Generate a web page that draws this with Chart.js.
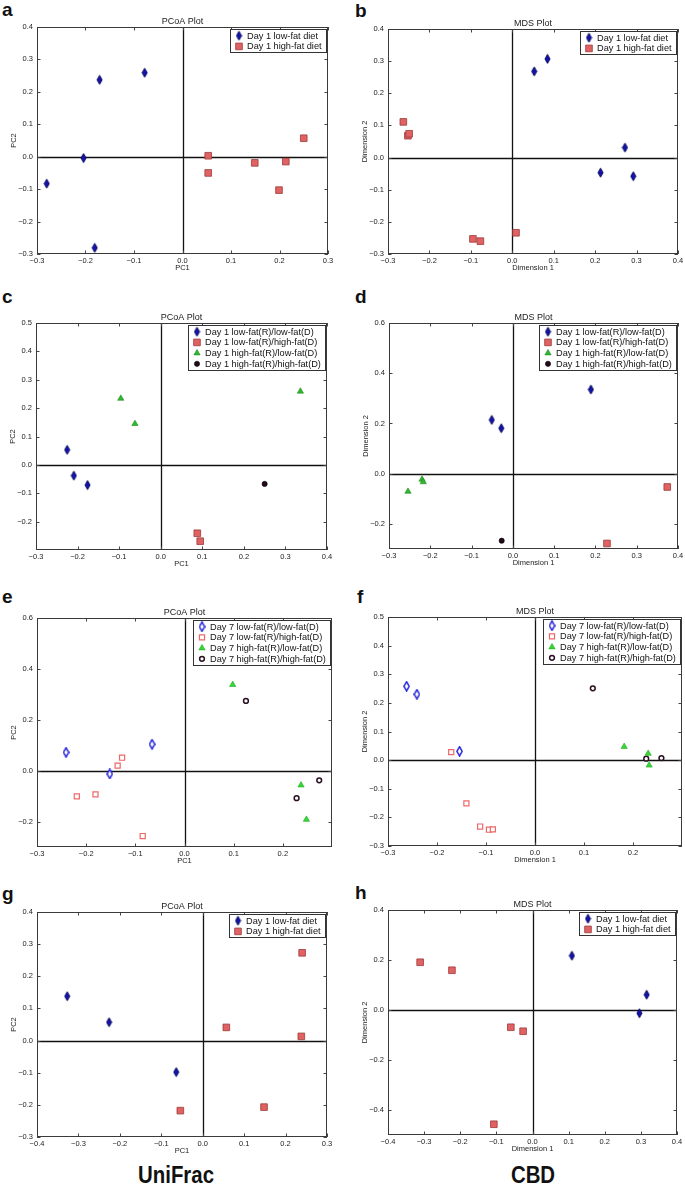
<!DOCTYPE html>
<html>
<head>
<meta charset="utf-8">
<title>PCoA / MDS plots</title>
<script src="https://cdn.jsdelivr.net/npm/chart.js@4.4.0/dist/chart.umd.min.js"></script>
<style>
  body { margin: 0; background: #fff; width: 685px; height: 1186px; position: relative; overflow: hidden;
         font-family: "Liberation Sans", Arial, sans-serif; }
  .panel { position: absolute; }
  .letter { position: absolute; font-weight: bold; font-size: 19px; line-height: 19px; color: #111; }
  .method { position: absolute; font-weight: bold; font-size: 24px; line-height: 24px; color: #111;
            transform: translateX(-50%) scaleX(0.85); white-space: nowrap; }
</style>
</head>
<body>
<div class="letter" style="left:2px;top:0px">a</div>
<div class="letter" style="left:355px;top:1px">b</div>
<div class="letter" style="left:2px;top:287px">c</div>
<div class="letter" style="left:355px;top:287px">d</div>
<div class="letter" style="left:2px;top:587px">e</div>
<div class="letter" style="left:357px;top:587px">f</div>
<div class="letter" style="left:2px;top:884px">g</div>
<div class="letter" style="left:355px;top:883px">h</div>
<div class="method" style="left:176px;top:1163px">UniFrac</div>
<div class="method" style="left:533px;top:1163px">CBD</div>
<script>
// legend texts
const dietLabels = ['Day 1 low-fat diet', 'Day 1 high-fat diet'];
const day1Groups = ['Day 1 low-fat(R)/low-fat(D)', 'Day 1 low-fat(R)/high-fat(D)',
                    'Day 1 high-fat(R)/low-fat(D)', 'Day 1 high-fat(R)/high-fat(D)'];
const day7Groups = ['Day 7 low-fat(R)/low-fat(D)', 'Day 7 low-fat(R)/high-fat(D)',
                    'Day 7 high-fat(R)/low-fat(D)', 'Day 7 high-fat(R)/high-fat(D)'];

// tick values
const ticksM3to3 = [-0.3, -0.2, -0.1, 0, 0.1, 0.2, 0.3];
const ticksM3to4 = [-0.3, -0.2, -0.1, 0, 0.1, 0.2, 0.3, 0.4];
const ticksM3to2 = [-0.3, -0.2, -0.1, 0, 0.1, 0.2];
const ticksM4to3 = [-0.4, -0.3, -0.2, -0.1, 0, 0.1, 0.2, 0.3];
const ticksM4to4 = [-0.4, -0.3, -0.2, -0.1, 0, 0.1, 0.2, 0.3, 0.4];
const ticksM2to5 = [-0.2, -0.1, 0, 0.1, 0.2, 0.3, 0.4, 0.5];
const ticksM3to5 = [-0.3, -0.2, -0.1, 0, 0.1, 0.2, 0.3, 0.4, 0.5];
const ticksM2to6by2 = [-0.2, 0, 0.2, 0.4, 0.6];
const ticksM4to4by2 = [-0.4, -0.2, 0, 0.2, 0.4];

// a - UniFrac PCoA, day 1
const aLowFat = [[-0.280, -0.083], [-0.204, -0.004], [-0.171, 0.237], [-0.078, 0.259], [-0.181, -0.281]];
const aHighFat = [[0.053, 0.003], [0.053, -0.050], [0.149, -0.019], [0.213, -0.015], [0.199, -0.103], [0.250, 0.057]];
// b - CBD MDS, day 1
const bLowFat = [[0.053, 0.268], [0.085, 0.307], [0.213, -0.047], [0.272, 0.031], [0.292, -0.058]];
const bHighFat = [[-0.263, 0.111], [-0.252, 0.068], [-0.249, 0.074], [-0.095, -0.253], [-0.077, -0.260], [0.009, -0.234]];
// c - UniFrac PCoA, day 1 recipients/donors
const cLowLow = [[-0.225, 0.053], [-0.209, -0.038], [-0.176, -0.071]];
const cLowHigh = [[0.088, -0.241], [0.095, -0.269]];
const cHighLow = [[-0.096, 0.234], [-0.062, 0.145], [0.336, 0.259]];
const cHighHigh = [[0.250, -0.067]];
// d - CBD MDS, day 1 recipients/donors
const dLowLow = [[-0.051, 0.214], [-0.028, 0.181], [0.189, 0.335]];
const dLowHigh = [[0.374, -0.053], [0.228, -0.278]];
const dHighLow = [[-0.254, -0.071], [-0.220, -0.023], [-0.217, -0.033]];
const dHighHigh = [[-0.027, -0.267]];
// e - UniFrac PCoA, day 7
const eLowLow = [[-0.241, 0.072], [-0.152, -0.013], [-0.066, 0.104]];
const eLowHigh = [[-0.219, -0.101], [-0.181, -0.093], [-0.136, 0.020], [-0.127, 0.051], [-0.085, -0.257]];
const eHighLow = [[0.098, 0.338], [0.237, -0.057], [0.248, -0.192]];
const eHighHigh = [[0.125, 0.274], [0.228, -0.108], [0.274, -0.038]];
// f - CBD MDS, day 7
const fLowLow = [[-0.262, 0.258], [-0.241, 0.230], [-0.154, 0.031]];
const fLowHigh = [[-0.171, 0.028], [-0.140, -0.151], [-0.112, -0.232], [-0.094, -0.243], [-0.086, -0.242]];
const fHighLow = [[0.182, 0.047], [0.231, 0.023], [0.233, -0.018]];
const fHighHigh = [[0.118, 0.251], [0.227, 0.005], [0.258, 0.007]];
// g - UniFrac PCoA, day 1 (second cohort)
const gLowFat = [[-0.327, 0.138], [-0.226, 0.057], [-0.064, -0.098]];
const gHighFat = [[-0.054, -0.218], [0.057, 0.041], [0.148, -0.207], [0.240, 0.273], [0.238, 0.013]];
// h - CBD MDS, day 1 (second cohort)
const hLowFat = [[0.109, 0.217], [0.316, 0.061], [0.296, -0.013]];
const hHighFat = [[-0.311, 0.191], [-0.223, 0.159], [-0.060, -0.069], [-0.026, -0.085], [-0.107, -0.457]];

const FONT = '"Liberation Sans", Arial, sans-serif';
const YW = 28, XH = 18, PT = 16, PR = 10;   // space around each plot box

// matplotlib-ish thin diamond marker
function thinDiamond(fill, stroke, lw) {
    const c = document.createElement('canvas');
    c.width = 7; c.height = 11;
    const g = c.getContext('2d');
    g.beginPath();
    g.moveTo(3.5, 0.9); g.lineTo(6.1, 5.5); g.lineTo(3.5, 10.1); g.lineTo(0.9, 5.5);
    g.closePath();
    g.fillStyle = fill; g.fill();
    g.lineWidth = lw; g.strokeStyle = stroke; g.stroke();
    return c;
}

const marks = {
    lowFat:   { pointStyle: thinDiamond('#1212ae', '#00004a', 0.8), pointRadius: 5, backgroundColor: '#1212ae', borderColor: '#00004a', borderWidth: 0.8 },
    highFat:  { pointStyle: 'rect', pointRadius: 4.7, backgroundColor: '#e06262', borderColor: '#9c3a3a', borderWidth: 0.8 },
    greenTri: { pointStyle: 'triangle', pointRadius: 3.6, backgroundColor: '#2fb82f', borderColor: '#1e8a1e', borderWidth: 0.6 },
    darkDot:  { pointStyle: 'circle', pointRadius: 2.6, backgroundColor: '#240a1a', borderColor: '#000000', borderWidth: 0.6 },
    lowOpen:  { pointStyle: thinDiamond('#ffffff', '#2020dc', 1.5), pointRadius: 5, backgroundColor: '#ffffff', borderColor: '#2020dc', borderWidth: 1.5 },
    highOpen: { pointStyle: 'rect', pointRadius: 3.6, backgroundColor: '#ffffff', borderColor: '#ee6868', borderWidth: 1.2 },
    brightTri:{ pointStyle: 'triangle', pointRadius: 3.6, backgroundColor: '#36d836', borderColor: '#22a822', borderWidth: 0.6 },
    darkRing: { pointStyle: 'circle', pointRadius: 2.4, backgroundColor: '#ffffff', borderColor: '#2a1022', borderWidth: 1.5 }
};

const panels = [
    { title: 'PCoA Plot', xTitle: 'PC1', yTitle: 'PC2', box: [37, 27, 291, 227],
      x: [-0.3, 0.3, ticksM3to3], y: [-0.3, 0.4, ticksM3to4],
      series: [aLowFat, aHighFat], labels: dietLabels, marks: [marks.lowFat, marks.highFat] },
    { title: 'MDS Plot', xTitle: 'Dimension 1', yTitle: 'Dimension 2', box: [388, 29, 290, 225],
      x: [-0.3, 0.4, ticksM3to4], y: [-0.3, 0.4, ticksM3to4],
      series: [bLowFat, bHighFat], labels: dietLabels, marks: [marks.lowFat, marks.highFat] },
    { title: 'PCoA Plot', xTitle: 'PC1', yTitle: 'PC2', box: [36, 323, 291, 227],
      x: [-0.3, 0.4, ticksM3to4], y: [-0.3, 0.5, ticksM2to5],
      series: [cLowLow, cLowHigh, cHighLow, cHighHigh], labels: day1Groups,
      marks: [marks.lowFat, marks.highFat, marks.greenTri, marks.darkDot] },
    { title: 'MDS Plot', xTitle: 'Dimension 1', yTitle: 'Dimension 2', box: [389, 323, 289, 226],
      x: [-0.3, 0.4, ticksM3to4], y: [-0.3, 0.6, ticksM2to6by2],
      series: [dLowLow, dLowHigh, dHighLow, dHighHigh], labels: day1Groups,
      marks: [marks.lowFat, marks.highFat, marks.greenTri, marks.darkDot] },
    { title: 'PCoA Plot', xTitle: 'PC1', yTitle: 'PC2', box: [37, 618, 295, 229],
      x: [-0.3, 0.3, ticksM3to2], y: [-0.3, 0.6, ticksM2to6by2],
      series: [eLowLow, eLowHigh, eHighLow, eHighHigh], labels: day7Groups,
      marks: [marks.lowOpen, marks.highOpen, marks.brightTri, marks.darkRing] },
    { title: 'MDS Plot', xTitle: 'Dimension 1', yTitle: 'Dimension 2', box: [388, 617, 294, 229],
      x: [-0.3, 0.3, ticksM3to2], y: [-0.3, 0.5, ticksM3to5],
      series: [fLowLow, fLowHigh, fHighLow, fHighHigh], labels: day7Groups,
      marks: [marks.lowOpen, marks.highOpen, marks.brightTri, marks.darkRing] },
    { title: 'PCoA Plot', xTitle: 'PC1', yTitle: 'PC2', box: [37, 912, 290, 225],
      x: [-0.4, 0.3, ticksM4to3], y: [-0.3, 0.4, ticksM3to4],
      series: [gLowFat, gHighFat], labels: dietLabels, marks: [marks.lowFat, marks.highFat] },
    { title: 'MDS Plot', xTitle: 'Dimension 1', yTitle: 'Dimension 2', box: [388, 910, 289, 225],
      x: [-0.4, 0.4, ticksM4to4], y: [-0.5, 0.4, ticksM4to4by2],
      series: [hLowFat, hHighFat], labels: dietLabels, marks: [marks.lowFat, marks.highFat] }
];

function fmt(v) {
    const s = Math.abs(v).toFixed(1);
    return v < -1e-9 ? '\u2212' + s : s;
}

// zero lines, boxed frame with inward ticks, title and boxed legend
const mplPlugin = {
    id: 'mpl',
    beforeDatasetsDraw(chart) {
        const { ctx, chartArea: a, scales } = chart;
        const x0 = Math.round(scales.x.getPixelForValue(0)) + 0.5;
        const y0 = Math.round(scales.y.getPixelForValue(0)) + 0.5;
        ctx.save();
        ctx.strokeStyle = '#111';
        ctx.lineWidth = 1.3;
        ctx.beginPath();
        ctx.moveTo(x0, a.top); ctx.lineTo(x0, a.bottom);
        ctx.moveTo(a.left, y0); ctx.lineTo(a.right, y0);
        ctx.stroke();
        ctx.restore();
    },
    afterDatasetsDraw(chart) {
        const { ctx, chartArea: a, scales } = chart;
        ctx.save();
        ctx.strokeStyle = '#444';
        ctx.lineWidth = 1;
        ctx.beginPath();
        scales.x.ticks.forEach(t => {
            const px = Math.round(scales.x.getPixelForValue(t.value)) + 0.5;
            ctx.moveTo(px, a.bottom); ctx.lineTo(px, a.bottom - 3.5);
            ctx.moveTo(px, a.top); ctx.lineTo(px, a.top + 3.5);
        });
        scales.y.ticks.forEach(t => {
            const py = Math.round(scales.y.getPixelForValue(t.value)) + 0.5;
            ctx.moveTo(a.left, py); ctx.lineTo(a.left + 3.5, py);
            ctx.moveTo(a.right, py); ctx.lineTo(a.right - 3.5, py);
        });
        ctx.stroke();
        ctx.strokeStyle = '#3a3a3a';
        ctx.strokeRect(Math.round(a.left) + 0.5, Math.round(a.top) + 0.5,
                       Math.round(a.right - a.left) - 1, Math.round(a.bottom - a.top) - 1);
        ctx.restore();
    },
    afterDraw(chart, args, opts) {
        const { ctx, chartArea: a } = chart;
        ctx.save();
        ctx.fillStyle = '#222';
        ctx.font = '9px ' + FONT;
        ctx.textAlign = 'center';
        ctx.textBaseline = 'alphabetic';
        ctx.fillText(opts.title, (a.left + a.right) / 2, a.top - 3.5);

        // legend
        const sets = chart.data.datasets;
        ctx.font = '9.2px ' + FONT;
        const tw = Math.max(...sets.map(d => ctx.measureText(d.label).width));
        const rowH = 10.7;
        const bw = Math.round(tw + 21), bh = Math.round(sets.length * rowH + 2);
        const bx = Math.round(a.right - 2 - bw) + 0.5, by = Math.round(a.top + 1.5) + 0.5;
        ctx.fillStyle = '#fff';
        ctx.fillRect(bx, by, bw, bh);
        ctx.strokeStyle = '#333';
        ctx.lineWidth = 1;
        ctx.strokeRect(bx, by, bw, bh);
        ctx.textAlign = 'left';
        ctx.textBaseline = 'middle';
        sets.forEach((d, i) => {
            const cy = by + 6.2 + i * rowH;
            ctx.save();
            ctx.fillStyle = d.backgroundColor;
            ctx.strokeStyle = d.borderColor;
            ctx.lineWidth = d.borderWidth;
            Chart.helpers.drawPoint(ctx, { pointStyle: d.pointStyle, radius: d.pointRadius,
                                           borderWidth: d.borderWidth, rotation: 0 }, bx + 8.5, cy);
            ctx.restore();
            ctx.fillStyle = '#111';
            ctx.fillText(d.label, bx + 16.5, cy + 0.5);
        });
        ctx.restore();
    }
};

function axis(range, title, isX) {
    const [min, max, ticks] = range;
    return {
        type: 'linear',
        min: min,
        max: max,
        afterBuildTicks: s => { s.ticks = ticks.map(v => ({ value: v })); },
        afterFit: s => { if (isX) s.height = XH; else s.width = YW; },
        grid: { display: false, drawTicks: false },
        border: { display: false },
        ticks: { autoSkip: false, maxRotation: 0, padding: isX ? 2 : 4, color: '#222',
                 font: { family: FONT, size: 7.5 }, callback: fmt },
        title: { display: true, text: title, color: '#222', padding: 0,
                 font: { family: FONT, size: 7.5 } }
    };
}

panels.forEach(p => {
    const [L, T, W, H] = p.box;
    const cw = YW + W + PR, ch = PT + H + XH;
    const wrap = document.createElement('div');
    wrap.className = 'panel';
    wrap.style.left = (L - YW) + 'px';
    wrap.style.top = (T - PT) + 'px';
    const cv = document.createElement('canvas');
    cv.width = cw; cv.height = ch;
    cv.style.width = cw + 'px'; cv.style.height = ch + 'px';
    wrap.appendChild(cv);
    document.body.appendChild(wrap);

    new Chart(cv, {
        type: 'scatter',
        data: {
            datasets: p.series.map((s, i) => Object.assign({
                label: p.labels[i],
                data: s.map(([x, y]) => ({ x: x, y: y })),
                pointHoverRadius: p.marks[i].pointRadius
            }, p.marks[i]))
        },
        options: {
            responsive: false,
            animation: false,
            layout: { padding: { top: PT, right: PR, left: 0, bottom: 0 } },
            scales: { x: axis(p.x, p.xTitle, true), y: axis(p.y, p.yTitle, false) },
            plugins: {
                legend: { display: false },
                tooltip: { enabled: false },
                mpl: { title: p.title }
            }
        },
        plugins: [mplPlugin]
    });
});
</script>
</body>
</html>
